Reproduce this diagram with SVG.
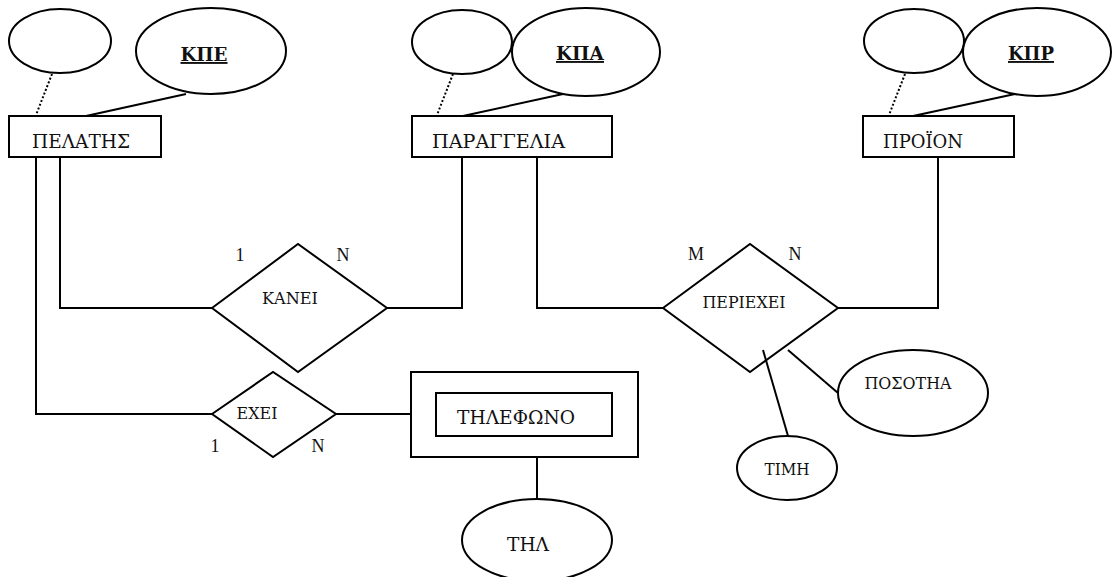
<svg xmlns="http://www.w3.org/2000/svg" width="1112" height="577" viewBox="0 0 1112 577">
<style>
.s{fill:#fff;stroke:#000;stroke-width:2}
.dm{fill:none;stroke:#000;stroke-width:2}
.c{fill:none;stroke:#000;stroke-width:2}
.d{fill:none;stroke:#000;stroke-width:2;stroke-dasharray:2 2}
text{font-family:"Liberation Serif","DejaVu Serif","Times New Roman",serif;fill:#111}
.g{font-family:"DejaVu Serif","Liberation Serif",serif}
.e{font-size:19px}
.r{font-size:17px;text-anchor:middle}
.k{font-size:19px;font-weight:bold;text-decoration:underline;text-anchor:middle}
.m{font-size:18px;text-anchor:middle}
</style>
<rect width="1112" height="577" fill="#fff"/>
<g id="connectors">
<line class="d" x1="52" y1="74" x2="36" y2="115"/>
<line class="c" x1="186" y1="94" x2="86" y2="116"/>
<line class="d" x1="453" y1="74" x2="437" y2="115"/>
<line class="c" x1="563" y1="94" x2="463" y2="116"/>
<line class="d" x1="905" y1="74" x2="889" y2="115"/>
<line class="c" x1="1015" y1="94" x2="913" y2="116"/>
<polyline class="c" points="60,157 60,308 212,308"/>
<polyline class="c" points="387,308 462,308 462,157"/>
<polyline class="c" points="537,157 537,308 663,308"/>
<polyline class="c" points="838,308 938,308 938,157"/>
<polyline class="c" points="36,157 36,414 212,414"/>
<line class="c" x1="336" y1="414" x2="411" y2="414"/>
<line class="c" x1="537" y1="457" x2="537" y2="499"/>
<line class="c" x1="763" y1="350" x2="788" y2="436"/>
<line class="c" x1="788" y1="350" x2="838" y2="393"/>
</g>
<g id="attr-pelatis-empty"><ellipse class="s" cx="60" cy="41" rx="51" ry="32"/></g>
<g id="attr-kpe"><ellipse class="s" cx="211" cy="51" rx="75" ry="43"/><text class="k g" x="204" y="61" textLength="47" lengthAdjust="spacingAndGlyphs">ΚΠΕ</text></g>
<g id="attr-paraggelia-empty"><ellipse class="s" cx="462" cy="42" rx="50" ry="32"/></g>
<g id="attr-kpa"><ellipse class="s" cx="586" cy="52" rx="74" ry="44"/><text class="k g" x="580" y="60" textLength="48" lengthAdjust="spacingAndGlyphs">ΚΠΑ</text></g>
<g id="attr-proion-empty"><ellipse class="s" cx="914" cy="41" rx="50" ry="32"/></g>
<g id="attr-kpr"><ellipse class="s" cx="1037" cy="52" rx="74" ry="44"/><text class="k g" x="1031" y="60" textLength="46" lengthAdjust="spacingAndGlyphs">ΚΠΡ</text></g>
<g id="pelatis"><rect class="s" x="9" y="116" width="152" height="41"/><text class="e g" x="32" y="148" textLength="98" lengthAdjust="spacingAndGlyphs">ΠΕΛΑΤΗΣ</text></g>
<g id="paraggelia"><rect class="s" x="412" y="116" width="200" height="41"/><text class="e g" x="432" y="148" textLength="133" lengthAdjust="spacingAndGlyphs">ΠΑΡΑΓΓΕΛΙΑ</text></g>
<g id="proion"><rect class="s" x="863" y="116" width="151" height="41"/><text class="e g" x="883" y="148" textLength="80" lengthAdjust="spacingAndGlyphs">ΠΡΟΪΟΝ</text></g>
<g id="kanei"><polygon class="dm" points="212,308 298,244 387,308 298,372"/><text class="r g" x="290" y="304" textLength="56" lengthAdjust="spacingAndGlyphs">ΚΑΝΕΙ</text>
<text class="m" x="240" y="261">1</text><text class="m" x="343" y="261">N</text></g>
<g id="periexei"><polygon class="dm" points="663,308 750,244 838,308 750,372"/><text class="r g" x="744" y="308" textLength="83" lengthAdjust="spacingAndGlyphs">ΠΕΡΙΕΧΕΙ</text>
<text class="m" x="696" y="260">M</text><text class="m" x="795" y="260">N</text></g>
<g id="exei"><polygon class="dm" points="212,414 273,372 336,414 273,457"/><text class="r g" x="257" y="419" textLength="41" lengthAdjust="spacingAndGlyphs">ΕΧΕΙ</text>
<text class="m" x="215" y="452">1</text><text class="m" x="318" y="452">N</text></g>
<g id="tilefono"><rect class="s" x="411" y="372" width="227" height="85"/><rect class="s" x="436" y="393" width="176" height="43"/><text class="e g" x="516" y="424" text-anchor="middle" textLength="118" lengthAdjust="spacingAndGlyphs">ΤΗΛΕΦΩΝΟ</text></g>
<g id="attr-posotha"><ellipse class="s" cx="913" cy="393" rx="75" ry="43"/><text class="r g" x="908" y="389" textLength="87" lengthAdjust="spacingAndGlyphs">ΠΟΣΟΤΗΑ</text></g>
<g id="attr-timh"><ellipse class="s" cx="787" cy="468" rx="50" ry="32"/><text class="r g" x="787" y="475" textLength="45" lengthAdjust="spacingAndGlyphs">ΤΙΜΗ</text></g>
<g id="attr-thl"><ellipse class="s" cx="537" cy="540" rx="75" ry="41"/><text class="e g" x="528" y="551" text-anchor="middle" textLength="42" lengthAdjust="spacingAndGlyphs">ΤΗΛ</text></g>
</svg>
